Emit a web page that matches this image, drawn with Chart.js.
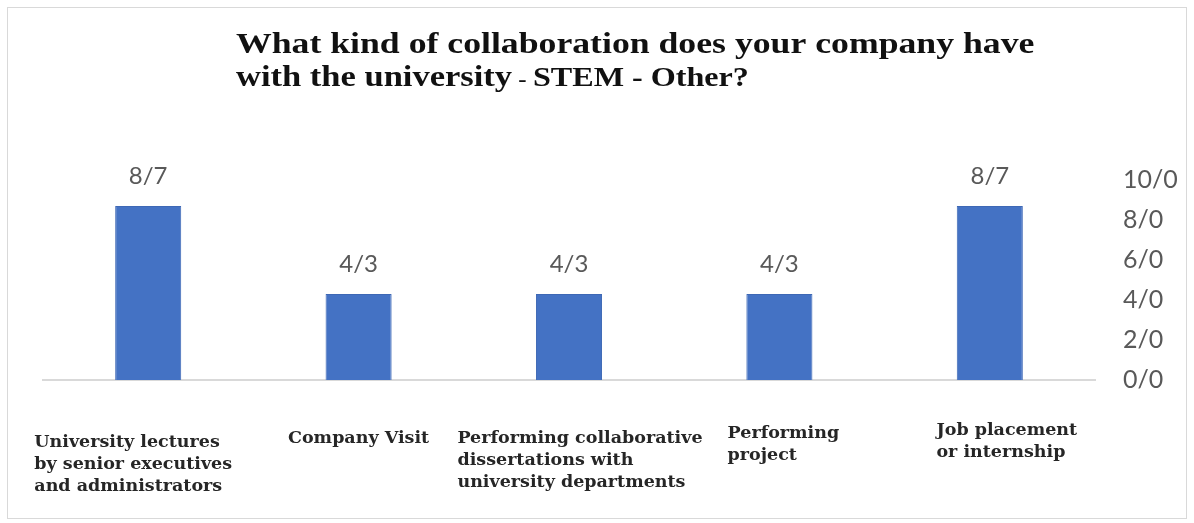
<!DOCTYPE html>
<html>
<head>
<meta charset="utf-8">
<script src="https://cdn.jsdelivr.net/npm/chart.js@4.4.1/dist/chart.umd.min.js"></script>
<style>
  body { margin: 0; background: #fff; }
  canvas { display: block; }
</style>
</head>
<body>
<canvas id="myChart" width="1194" height="523"></canvas>
<script>
const categories = [
    ['University lectures', 'by senior executives', 'and administrators'],
    ['Company Visit'],
    ['Performing collaborative', 'dissertations with', 'university departments'],
    ['Performing', 'project'],
    ['Job placement', 'or internship']
];
const values = [8.7, 4.3, 4.3, 4.3, 8.7];
const yTicks = [0, 2, 4, 6, 8, 10];

const titleLine1 = 'What kind of collaboration does your company have';
const titleLine2 = ['with the university', ' - ', 'STEM - Other?'];

// numbers use "/" as the decimal mark
function fmt(v) {
    return Number(v).toFixed(1).replace('.', '/');
}

// small per-label shifts for the category captions under the axis
const labelNudgeX = [-15, 0, 11, 4, 17];
const labelNudgeY = [4, 0, 0, -5, -8];

const textLayer = {
    id: 'textLayer',
    beforeDraw(chart) {
        const c = chart.ctx;
        c.save();
        c.fillStyle = '#fff';
        c.fillRect(0, 0, chart.width, chart.height);
        c.strokeStyle = '#d9d9d9';
        c.lineWidth = 1;
        c.strokeRect(7.5, 7.5, 1179, 511);
        c.restore();
    },
    afterDatasetsDraw(chart) {
        const c = chart.ctx;
        const meta = chart.getDatasetMeta(0);
        c.save();
        c.font = '24px Lato';
        c.fillStyle = '#595959';
        c.textAlign = 'center';
        c.textBaseline = 'middle';
        meta.data.forEach((bar, i) => {
            c.fillText(fmt(values[i]), bar.x, bar.y - 30);
        });
        c.restore();
    },
    afterDraw(chart) {
        const c = chart.ctx;
        c.save();
        c.fillStyle = '#111';
        c.textBaseline = 'alphabetic';

        // title, slightly widened
        c.save();
        c.translate(236, 53);
        c.scale(1.19, 1);
        c.font = 'bold 30px "Liberation Serif"';
        c.fillText(titleLine1, 0, 0);
        c.restore();

        c.save();
        c.translate(236, 86);
        c.scale(1.19, 1);
        const fonts = ['bold 29px "Liberation Serif"', 'bold 21px "Liberation Serif"', 'bold 27px "Liberation Serif"'];
        let cx = 0;
        titleLine2.forEach((t, i) => {
            c.font = fonts[i];
            c.fillText(t, cx, 0);
            cx += c.measureText(t).width;
        });
        c.restore();

        // category captions, left aligned blocks under each bar
        const xs = chart.scales.x;
        c.font = 'bold 17.5px "DejaVu Serif"';
        c.fillStyle = '#262626';
        c.textAlign = 'left';
        categories.forEach((lines, i) => {
            const w = Math.max(...lines.map(l => c.measureText(l).width));
            const left = xs.getPixelForValue(i) - w / 2 + labelNudgeX[i];
            lines.forEach((l, j) => {
                c.fillText(l, left, 443 + labelNudgeY[i] + j * 22);
            });
        });
        c.restore();
    }
};

const ctx = document.getElementById('myChart');

new Chart(ctx, {
    type: 'bar',
    data: {
        labels: categories,
        datasets: [{
            data: values,
            backgroundColor: '#4472C4',
            borderColor: '#3e68b5',
            borderWidth: 1,
            barPercentage: 0.314,
            categoryPercentage: 1
        }]
    },
    options: {
        responsive: false,
        animation: false,
        layout: {
            padding: { left: 43, right: 9, top: 180, bottom: 143 }
        },
        plugins: {
            legend: { display: false },
            title: { display: false },
            tooltip: { enabled: false }
        },
        scales: {
            x: {
                ticks: { display: false },
                grid: { display: false, drawTicks: false },
                border: { display: true, color: '#d9d9d9', width: 2 },
                afterFit: s => { s.height = 0; }
            },
            y: {
                position: 'right',
                min: 0,
                max: 10,
                afterBuildTicks: s => { s.ticks = yTicks.map(v => ({ value: v })); },
                ticks: {
                    padding: 28,
                    color: '#595959',
                    font: { family: 'Lato', size: 25 },
                    callback: v => fmt(v)
                },
                grid: { display: false, drawTicks: false },
                border: { display: false },
                afterFit: s => { s.width = 90; }
            }
        }
    },
    plugins: [textLayer]
});
</script>
</body>
</html>
